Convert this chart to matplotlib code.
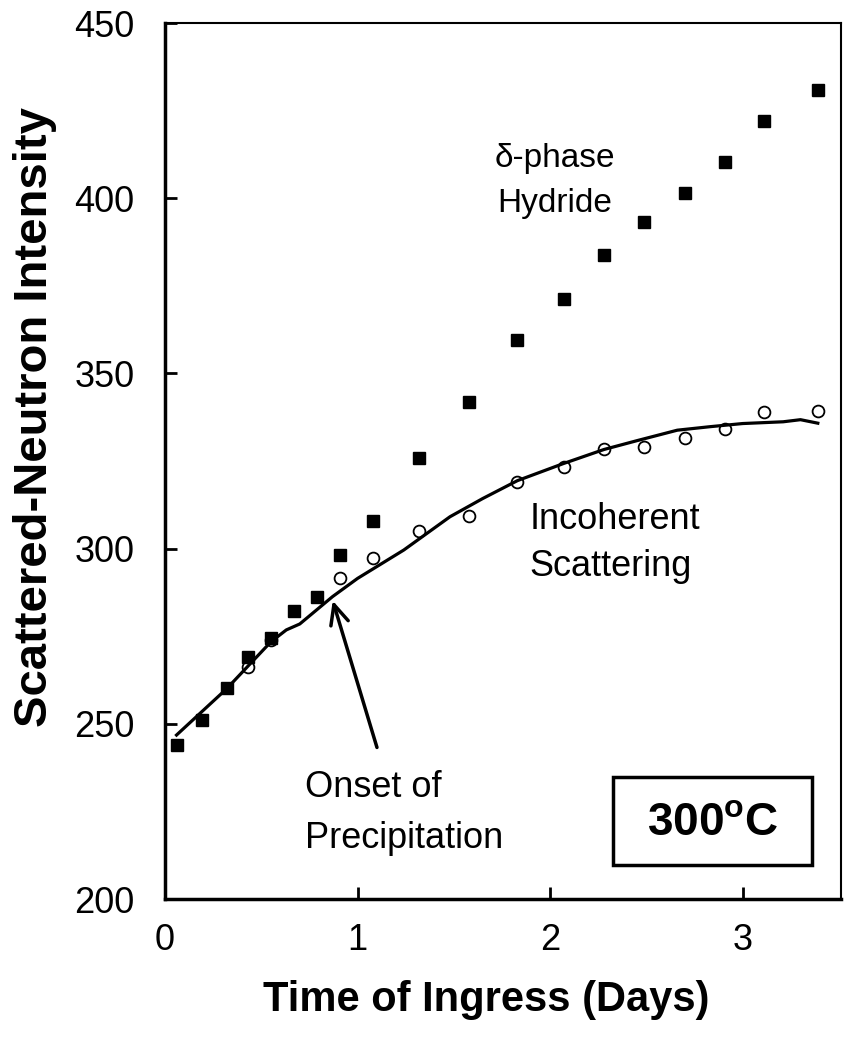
from matplotlib import pyplot as plt
from matplotlib.patches import Rectangle

plt.rcParams['font.family'] = ['Liberation Sans', 'DejaVu Sans']
plt.rcParams['mathtext.fontset'] = 'custom'
plt.rcParams['mathtext.bf'] = 'Liberation Sans:bold'
plt.rcParams['mathtext.rm'] = 'Liberation Sans'

# delta-phase hydride (filled squares)
hyd_days = [0.06, 0.19, 0.32, 0.43, 0.55, 0.67, 0.79, 0.91, 1.08, 1.32,
            1.58, 1.83, 2.07, 2.28, 2.49, 2.70, 2.91, 3.11, 3.39]
hyd_int = [244.0, 251.1, 260.2, 269.1, 274.5, 282.2, 286.2, 298.2, 308.0, 326.0,
           341.8, 359.5, 371.2, 383.8, 393.1, 401.4, 410.2, 422.0, 430.9]

# incoherent scattering (open circles)
inc_days = [0.43, 0.55, 0.91, 1.08, 1.32, 1.58, 1.83, 2.07, 2.28, 2.49,
            2.70, 2.91, 3.11, 3.39]
inc_int = [266.3, 274.0, 291.5, 297.2, 305.0, 309.4, 318.9, 323.4, 328.3, 328.9,
           331.7, 334.1, 338.9, 339.3]

# smoothed incoherent curve
fit_days = [0.06, 0.32, 0.55, 0.63, 0.70, 0.87, 1.00, 1.24, 1.48, 1.65,
            1.83, 2.07, 2.28, 2.45, 2.66, 2.83, 3.00, 3.21, 3.30, 3.39]
fit_int = [246.8, 260.0, 273.4, 276.8, 278.5, 286.3, 291.5, 299.6, 309.1, 314.3,
           319.4, 324.3, 328.3, 330.8, 333.8, 334.8, 335.7, 336.2, 336.8, 335.8]

fig = plt.figure(figsize=(8.46, 10.42), dpi=100)
ax = fig.add_axes([0.195, 0.1372, 0.799, 0.8407])

ax.plot(inc_days, inc_int, 'o', ms=8.5, mfc='white', mec='black', mew=1.3, zorder=2)
ax.plot(fit_days, fit_int, '-', color='black', lw=2.3, zorder=3)
ax.plot(hyd_days, hyd_int, 's', ms=8.5, color='black', zorder=4)

ax.set_xlim(0, 3.51)
ax.set_ylim(200, 450)
ax.set_xticks([0, 1, 2, 3])
ax.set_yticks([200, 250, 300, 350, 400, 450])
ax.tick_params(direction='in', length=8.5, width=2, labelsize=26,
               top=False, right=False)
ax.tick_params(axis='y', pad=22)
ax.tick_params(axis='x', pad=17)
for s in ['left', 'bottom']:
    ax.spines[s].set_linewidth(2.5)
for s in ['top', 'right']:
    ax.spines[s].set_linewidth(1.5)

fig.text(0.575, 0.04, 'Time of Ingress (Days)', ha='center', va='center',
         fontsize=30, fontweight='bold')
fig.text(0.041, 0.60, 'Scattered-Neutron Intensity', ha='center', va='center',
         rotation=90, fontsize=34, fontweight='bold')

ax.text(2.024, 405, 'δ-phase\nHydride', ha='center', va='center', fontsize=24,
        linespacing=1.6)
ax.text(1.894, 301.6, 'Incoherent\nScattering', ha='left', va='center',
        fontsize=26, linespacing=1.45)
ax.text(0.727, 224.5, 'Onset of\nPrecipitation', ha='left', va='center',
        fontsize=26, linespacing=1.6)

ax.annotate('', xy=(0.867, 285.9), xytext=(1.105, 242.5),
            arrowprops=dict(arrowstyle='->,head_length=1.4,head_width=0.65',
                            lw=2.5, color='black'))

ax.add_patch(Rectangle((0.663, 0.039), 0.294, 0.100, transform=ax.transAxes,
                       fill=False, lw=2.5, ec='black', zorder=5))
ax.text(0.81, 0.087, r'300$^\mathbf{o}$C', transform=ax.transAxes,
        ha='center', va='center', fontsize=33, fontweight='bold')

fig.savefig('out.png', dpi=100)
